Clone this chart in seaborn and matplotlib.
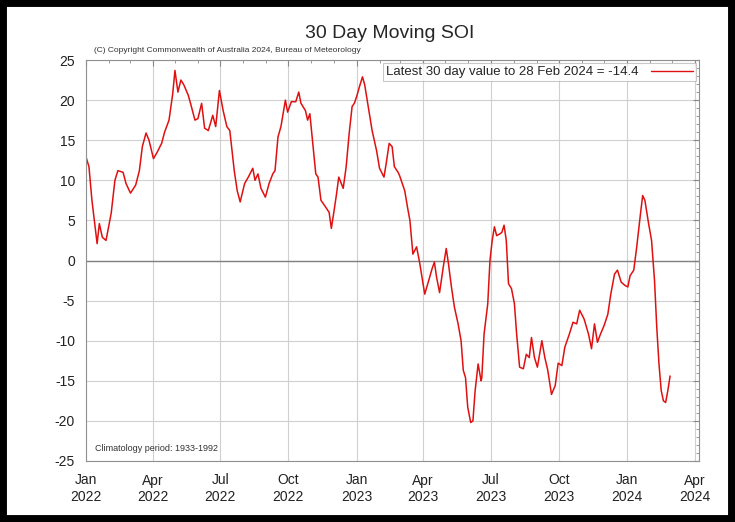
import matplotlib
matplotlib.use("Agg")
import matplotlib.pyplot as plt
import matplotlib.dates as mdates
from matplotlib.lines import Line2D
from matplotlib.patches import Rectangle
import pandas as pd
import seaborn as sns

# 30-day moving Southern Oscillation Index, Jan 2022 - Feb 2024
dates = [
    "2022-01-01", "2022-01-05", "2022-01-09", "2022-01-16", "2022-01-19", "2022-01-23",
    "2022-01-28", "2022-02-04", "2022-02-09", "2022-02-13", "2022-02-20", "2022-02-24",
    "2022-03-02", "2022-03-09", "2022-03-14", "2022-03-18", "2022-03-23", "2022-03-27",
    "2022-04-02", "2022-04-07", "2022-04-13", "2022-04-17", "2022-04-23", "2022-04-28",
    "2022-05-01", "2022-05-05", "2022-05-09", "2022-05-13", "2022-05-19", "2022-05-22",
    "2022-05-28", "2022-06-01", "2022-06-06", "2022-06-10", "2022-06-15", "2022-06-21",
    "2022-06-25", "2022-06-30", "2022-07-05", "2022-07-10", "2022-07-14", "2022-07-20",
    "2022-07-24", "2022-07-28", "2022-08-03", "2022-08-08", "2022-08-14", "2022-08-17",
    "2022-08-21", "2022-08-25", "2022-08-31", "2022-09-05", "2022-09-10", "2022-09-13",
    "2022-09-17", "2022-09-21", "2022-09-27", "2022-09-30", "2022-10-05", "2022-10-11",
    "2022-10-15", "2022-10-18", "2022-10-24", "2022-10-27", "2022-10-30", "2022-11-03",
    "2022-11-07", "2022-11-10", "2022-11-14", "2022-11-20", "2022-11-25", "2022-11-28",
    "2022-12-01", "2022-12-05", "2022-12-08", "2022-12-14", "2022-12-18", "2022-12-22",
    "2022-12-26", "2022-12-29", "2023-01-01", "2023-01-05", "2023-01-09", "2023-01-12",
    "2023-01-16", "2023-01-22", "2023-01-28", "2023-02-01", "2023-02-07", "2023-02-10",
    "2023-02-14", "2023-02-18", "2023-02-21", "2023-02-26", "2023-02-28", "2023-03-07",
    "2023-03-11", "2023-03-14", "2023-03-18", "2023-03-23", "2023-03-27", "2023-04-03",
    "2023-04-07", "2023-04-13", "2023-04-16", "2023-04-19", "2023-04-23", "2023-04-28",
    "2023-05-02", "2023-05-05", "2023-05-09", "2023-05-13", "2023-05-18", "2023-05-22",
    "2023-05-25", "2023-05-28", "2023-05-31", "2023-06-04", "2023-06-07", "2023-06-10",
    "2023-06-14", "2023-06-18", "2023-06-19", "2023-06-22", "2023-06-27", "2023-06-30",
    "2023-07-03", "2023-07-06", "2023-07-09", "2023-07-13", "2023-07-16", "2023-07-19",
    "2023-07-22", "2023-07-25", "2023-07-29", "2023-08-02", "2023-08-05", "2023-08-09",
    "2023-08-14", "2023-08-18", "2023-08-22", "2023-08-25", "2023-08-29", "2023-09-02",
    "2023-09-08", "2023-09-12", "2023-09-16", "2023-09-21", "2023-09-26", "2023-09-30",
    "2023-10-05", "2023-10-09", "2023-10-15", "2023-10-20", "2023-10-25", "2023-10-29",
    "2023-11-04", "2023-11-10", "2023-11-14", "2023-11-18", "2023-11-22", "2023-11-26",
    "2023-12-01", "2023-12-06", "2023-12-10", "2023-12-15", "2023-12-19", "2023-12-24",
    "2023-12-29", "2024-01-02", "2024-01-05", "2024-01-10", "2024-01-14", "2024-01-19",
    "2024-01-22", "2024-01-25", "2024-01-30", "2024-02-03", "2024-02-07", "2024-02-10",
    "2024-02-13", "2024-02-16", "2024-02-19", "2024-02-22", "2024-02-25", "2024-02-28",
]
soi = [
    12.9, 11.7, 7.5, 2.1, 4.6, 2.9,
    2.5, 5.9, 10.0, 11.2, 11.0, 9.6,
    8.4, 9.4, 11.2, 14.2, 15.9, 15.0,
    12.7, 13.5, 14.6, 16.0, 17.5, 20.8,
    23.7, 21.0, 22.5, 21.9, 20.6, 19.6,
    17.5, 17.7, 19.6, 16.5, 16.2, 18.1,
    16.7, 21.2, 18.7, 16.7, 16.2, 11.2,
    8.7, 7.3, 9.6, 10.4, 11.5, 10.0,
    10.8, 9.0, 7.9, 9.6, 10.8, 11.2,
    15.4, 16.7, 20.0, 18.5, 19.8, 19.8,
    21.0, 19.6, 18.7, 17.5, 18.3, 14.6,
    10.8, 10.4, 7.5, 6.7, 6.0, 4.0,
    5.8, 8.3, 10.4, 9.0, 11.7, 15.8,
    19.2, 19.6, 20.4, 21.7, 22.9, 21.9,
    19.6, 16.2, 13.7, 11.5, 10.4, 12.1,
    14.6, 14.2, 11.7, 11.0, 10.6, 8.7,
    6.5, 5.0, 0.8, 1.7, -0.2, -4.2,
    -2.9, -1.0, -0.2, -2.1, -4.0, -0.8,
    1.5, -0.4, -3.3, -5.8, -7.9, -10.0,
    -13.7, -14.6, -18.3, -20.2, -20.0, -16.2,
    -12.9, -15.0, -14.6, -9.2, -5.4, 0.0,
    2.5, 4.2, 3.1, 3.3, 3.5, 4.4,
    2.5, -2.9, -3.5, -5.4, -9.2, -13.3,
    -13.5, -11.7, -12.1, -9.6, -12.1, -13.3,
    -10.0, -12.1, -13.7, -16.7, -15.6, -12.8,
    -13.1, -10.8, -9.2, -7.7, -7.9, -6.2,
    -7.3, -9.2, -11.0, -7.9, -10.2, -9.2,
    -8.1, -6.7, -4.2, -1.7, -1.2, -2.7,
    -3.1, -3.3, -1.9, -1.2, 1.7, 5.8,
    8.1, 7.5, 4.6, 2.5, -2.5, -8.3,
    -12.9, -16.2, -17.5, -17.7, -16.2, -14.4,
]

tick_dates = ["2022-01-01", "2022-04-01", "2022-07-01", "2022-10-01",
              "2023-01-01", "2023-04-01", "2023-07-01", "2023-10-01",
              "2024-01-01", "2024-04-01"]
y_ticks = [25, 20, 15, 10, 5, 0, -5, -10, -15, -20, -25]

title = "30 Day Moving SOI"
copyright_note = "(C) Copyright Commonwealth of Australia 2024, Bureau of Meteorology"
legend_label = "Latest 30 day value to 28 Feb 2024 = -14.4"
climatology_note = "Climatology period: 1933-1992"

df = pd.DataFrame({"date": pd.to_datetime(dates), "soi": soi})

sns.set_style("white")
plt.rcParams["font.family"] = ["Liberation Sans", "DejaVu Sans"]
plt.rcParams["axes.unicode_minus"] = False

fig = plt.figure(figsize=(7.35, 5.22), dpi=100)
ax = fig.add_axes([86 / 735, 1 - 461 / 522, (699 - 86) / 735, (461 - 60) / 522])

line_color = "#e01010"
sns.lineplot(data=df, x="date", y="soi", ax=ax, color=line_color, linewidth=1.1)

# axes limits and ticks
ax.set_xlim(pd.Timestamp("2022-01-01"), pd.Timestamp("2024-04-07"))
ax.set_ylim(-25, 25)
ax.set_xticks(pd.to_datetime(tick_dates))
ax.xaxis.set_major_formatter(mdates.DateFormatter("%b\n%Y"))
ax.xaxis.set_minor_locator(mdates.MonthLocator())
ax.set_yticks(y_ticks)
ax.yaxis.set_minor_locator(matplotlib.ticker.MultipleLocator(1))
ax.tick_params(axis="both", which="both", direction="in", top=True, right=True,
               colors="#888888", labelcolor="#222222", labelsize=10)
ax.tick_params(axis="both", which="major", length=4)
ax.tick_params(axis="both", which="minor", length=2)
ax.tick_params(axis="x", which="major", pad=9)
ax.tick_params(axis="y", which="major", pad=8)
ax.set_xlabel("")
ax.set_ylabel("")

# grid and zero line
ax.grid(True, which="major", color="#d0d0d0", linewidth=0.8)
ax.axhline(0, color="#808080", linewidth=1.0, zorder=1)
for side in ax.spines.values():
    side.set_color("#909090")
    side.set_linewidth(0.8)

# legend: label first, then sample line
handle = Line2D([0], [0], color=line_color, linewidth=1.0)
leg = ax.legend([handle], [legend_label], loc="upper right", markerfirst=False,
                fontsize=9.5, frameon=True, fancybox=False, handlelength=3.2,
                borderaxespad=0.2, borderpad=0.25, handletextpad=0.9)
leg.get_frame().set_edgecolor("#bbbbbb")
leg.get_frame().set_linewidth(0.8)

# titles and notes
fig.text(390 / 735, 1 - 34 / 522, title, ha="center", va="center", fontsize=14)
fig.text(94 / 735, 1 - 50 / 522, copyright_note, ha="left", va="center",
         fontsize=6, color="#333333")
ax.text(0.015, 0.02, climatology_note, transform=ax.transAxes, ha="left",
        va="bottom", fontsize=6.5, color="#333333")

# outer black frame
fig.patches.append(Rectangle((0, 0), 1, 1, transform=fig.transFigure, fill=False,
                             edgecolor="black", linewidth=10, zorder=10))

fig.savefig("out.png", dpi=100)
